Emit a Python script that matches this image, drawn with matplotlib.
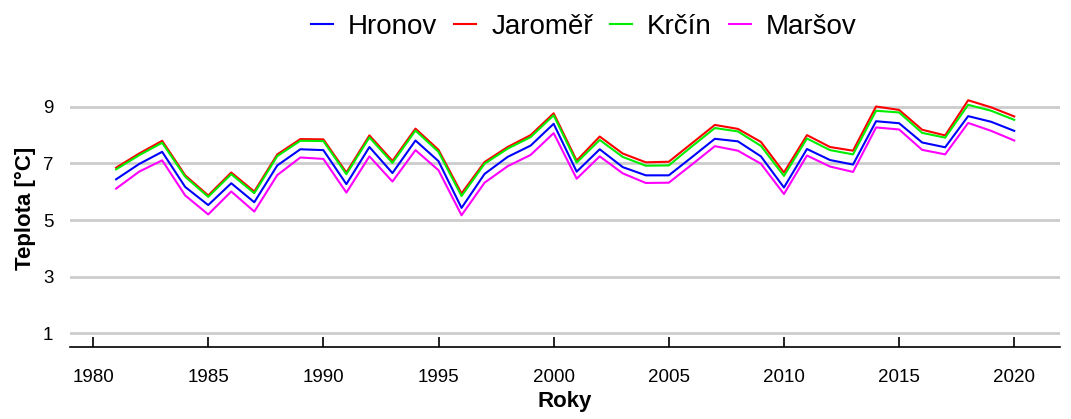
import numpy as np
import matplotlib
matplotlib.use('Agg')
import matplotlib.pyplot as plt

plt.rcParams['font.family'] = ['Liberation Sans', 'DejaVu Sans']

years = list(range(1981, 2021))

# mean annual temperature [°C]
hronov = [6.44, 6.98, 7.41, 6.17, 5.53, 6.30, 5.63, 6.93, 7.50, 7.47,
          6.27, 7.58, 6.66, 7.81, 7.08, 5.43, 6.63, 7.23, 7.63, 8.40,
          6.71, 7.50, 6.87, 6.58, 6.58, 7.22, 7.87, 7.78, 7.25, 6.15,
          7.51, 7.12, 6.96, 8.49, 8.42, 7.74, 7.57, 8.67, 8.47, 8.15]
jaromer = [6.85, 7.35, 7.80, 6.58, 5.87, 6.68, 6.01, 7.32, 7.86, 7.85,
           6.68, 7.99, 7.09, 8.23, 7.48, 5.94, 7.05, 7.58, 8.00, 8.77,
           7.10, 7.95, 7.35, 7.04, 7.06, 7.71, 8.36, 8.22, 7.76, 6.68,
           8.00, 7.58, 7.45, 9.01, 8.89, 8.19, 7.99, 9.23, 8.98, 8.66]
krcin = [6.79, 7.29, 7.73, 6.53, 5.82, 6.62, 5.95, 7.26, 7.80, 7.79,
         6.62, 7.92, 7.02, 8.16, 7.41, 5.85, 6.99, 7.52, 7.93, 8.70,
         7.03, 7.83, 7.23, 6.92, 6.93, 7.60, 8.25, 8.13, 7.62, 6.56,
         7.88, 7.47, 7.32, 8.86, 8.80, 8.08, 7.91, 9.07, 8.86, 8.54]
marsov = [6.11, 6.71, 7.11, 5.87, 5.20, 6.01, 5.30, 6.59, 7.21, 7.16,
          5.97, 7.25, 6.36, 7.47, 6.76, 5.17, 6.32, 6.90, 7.30, 8.07,
          6.46, 7.25, 6.65, 6.31, 6.32, 6.96, 7.61, 7.45, 6.99, 5.92,
          7.28, 6.89, 6.70, 8.27, 8.20, 7.48, 7.32, 8.43, 8.15, 7.81]

series = [('Hronov', hronov, '#0000FF'),
          ('Jaroměř', jaromer, '#FF0000'),
          ('Krčín', krcin, '#00EE00'),
          ('Maršov', marsov, '#FF00FF')]

x_ticks = [1980, 1985, 1990, 1995, 2000, 2005, 2010, 2015, 2020]
y_ticks = [1, 3, 5, 7, 9]

fig = plt.figure(figsize=(10.71, 4.19), dpi=100)
ax = fig.add_axes([0.0654, 0.1726, 0.9246, 0.6604])

for name, vals, col in series:
    ax.plot(years, vals, color=col, linewidth=1.5, label=name, zorder=3)

ax.set_xlim(1979.0, 2022.0)
ax.set_ylim(0.53, 10.3)

ax.set_yticks(y_ticks)
ax.set_xticks(x_ticks)
ax.grid(axis='y', color='#CCCCCC', linewidth=2.0, zorder=0)
ax.set_axisbelow(True)

for side in ['top', 'right', 'left']:
    ax.spines[side].set_visible(False)
ax.spines['bottom'].set_linewidth(1.2)

ax.tick_params(axis='x', direction='in', length=7, width=1.2, pad=16, labelsize=13.5)
ax.tick_params(axis='y', length=0, pad=12, labelsize=13.5)

ax.set_xlabel('Roky', fontsize=16, fontweight='bold', labelpad=4)
ax.set_ylabel('Teplota [°C]', fontsize=16, fontweight='bold', labelpad=5)

fig.legend(loc='center', bbox_to_anchor=(0.545, 0.936), ncol=4, frameon=False,
           fontsize=20, handlelength=0.8, handletextpad=0.55, columnspacing=0.6)

plt.savefig('out.png', dpi=100)
